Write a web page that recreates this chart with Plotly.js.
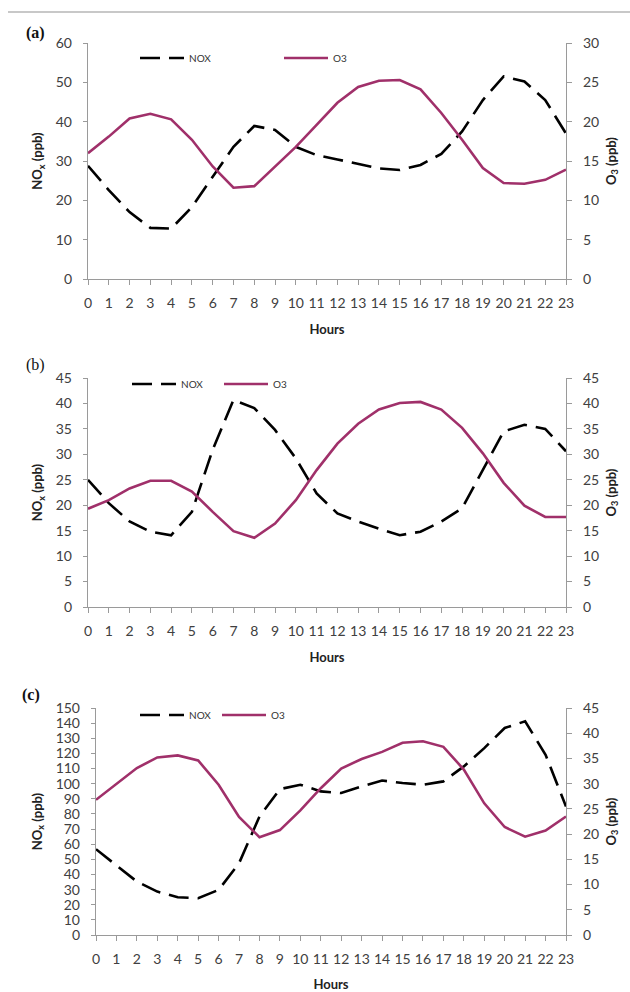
<!DOCTYPE html>
<html>
<head>
<meta charset="utf-8">
<script src="https://cdn.plot.ly/plotly-3.0.1.min.js"></script>
<style>html,body{margin:0;padding:0;background:#fff;}#chart{width:630px;height:992px;}</style>
</head>
<body>
<div id="chart"></div>
<script>
const hours = [0,1,2,3,4,5,6,7,8,9,10,11,12,13,14,15,16,17,18,19,20,21,22,23];

const noxA = [28.8,22.6,17.0,13.0,12.8,18.3,26.0,33.6,38.9,37.9,33.6,31.5,30.4,29.2,28.1,27.7,29.0,31.8,37.5,45.5,51.5,50.2,45.5,37.0];
const o3A  = [16.0,18.1,20.4,21.0,20.3,17.7,14.3,11.6,11.8,14.3,16.8,19.6,22.4,24.4,25.2,25.3,24.1,21.1,17.7,14.1,12.2,12.1,12.6,13.9];

const noxB = [25.0,20.4,16.8,14.8,14.1,18.7,30.9,40.7,39.1,34.8,29.2,22.3,18.4,16.8,15.4,14.1,14.8,16.8,19.4,26.9,34.5,35.8,35.0,30.6];
const o3B  = [19.3,21.0,23.3,24.8,24.8,22.7,18.7,14.9,13.6,16.4,21.0,26.9,32.1,36.0,38.8,40.1,40.3,38.8,35.2,30.2,24.4,19.9,17.7,17.7];

const noxC = [56.7,46.3,35.3,28.7,24.9,24.3,29.8,47.4,78.3,96.4,99.3,94.9,93.8,98.2,102.1,100.4,99.3,101.5,111.4,123.5,136.8,141.2,119.1,84.9];
const o3C  = [26.8,30.0,33.1,35.2,35.6,34.6,29.8,23.4,19.4,20.8,24.7,29.1,33.0,34.9,36.3,38.1,38.4,37.3,32.8,26.1,21.4,19.5,20.7,23.5];

const panelLabels = ['(a)','(b)','(c)'];
const seriesNames = ['NOX','O3'];
const leftTitle = 'NO<sub>x</sub> (ppb)';
const rightTitle = 'O<sub>3</sub> (ppb)';
const xTitle = 'Hours';

const W = 630, H = 992;
const px = v => v / W;
const py = v => 1 - v / H;

const NOX_COLOR = '#000000';
const O3_COLOR = '#A0306A';
const AX_COLOR = '#9a9a9a';
const TICK_FONT = {family: 'Lato, "Open Sans", sans-serif', size: 14, color: '#404040'};
const TITLE_FONT = {family: 'Lato, "Open Sans", sans-serif', size: 13, color: '#222', weight: 'bold'};

function noxTrace(y, xa, ya, lg) {
  return {x: hours, y: y, xaxis: xa, yaxis: ya, name: seriesNames[0], mode: 'lines', legend: lg,
    line: {color: NOX_COLOR, width: 2.6, dash: '20px,9px'}, showlegend: true};
}
function o3Trace(y, xa, ya, lg) {
  return {x: hours, y: y, xaxis: xa, yaxis: ya, name: seriesNames[1], mode: 'lines', legend: lg,
    line: {color: O3_COLOR, width: 2.6}, showlegend: true};
}

const data = [
  noxTrace(noxA, 'x', 'y', 'legend'), o3Trace(o3A, 'x', 'y2', 'legend'),
  noxTrace(noxB, 'x2', 'y3', 'legend2'), o3Trace(o3B, 'x2', 'y4', 'legend2'),
  noxTrace(noxC, 'x3', 'y5', 'legend3'), o3Trace(o3C, 'x3', 'y6', 'legend3')
];

function xAxis(dom, ydomAnchor) {
  return {domain: dom, anchor: ydomAnchor, range: [0, 23], tickvals: hours, ticktext: hours.map(String),
    ticks: 'outside', ticklen: 5, tickcolor: AX_COLOR, showline: true, linecolor: AX_COLOR, linewidth: 1.2,
    showgrid: false, zeroline: false, tickfont: TICK_FONT, tickangle: 0, ticklabelstandoff: 6,
    title: {text: xTitle, font: TITLE_FONT, standoff: 14}};
}
function xInner(over, ya) {
  return {overlaying: over, anchor: ya, side: 'bottom', range: [0, 23], tickvals: hours, ticks: 'inside', ticklen: 4,
    tickcolor: AX_COLOR, showticklabels: false, showline: false, showgrid: false, zeroline: false};
}
function yLeft(dom, xa, range, dtick) {
  return {domain: dom, anchor: xa, range: range, dtick: dtick, tick0: 0, ticks: 'outside', ticklen: 4,
    tickcolor: AX_COLOR, showline: true, linecolor: AX_COLOR, linewidth: 1.2, showgrid: false, zeroline: false,
    tickfont: TICK_FONT, ticklabelstandoff: 8, title: {text: leftTitle, font: TITLE_FONT, standoff: 10}};
}
function yRight(over, xa, range, dtick) {
  return {overlaying: over, anchor: xa, side: 'right', range: range, dtick: dtick, tick0: 0, ticks: 'outside',
    ticklen: 5, tickcolor: AX_COLOR, showline: true, linecolor: AX_COLOR, linewidth: 1.2, showgrid: false,
    zeroline: false, tickfont: TICK_FONT, ticklabelstandoff: 8, title: {text: rightTitle, font: TITLE_FONT, standoff: 8}};
}
function yRightInner(over, xa, range, dtick) {
  return {overlaying: over, anchor: xa, side: 'right', range: range, dtick: dtick, tick0: 0, ticks: 'inside',
    ticklen: 5, tickcolor: AX_COLOR, showticklabels: false, showline: false, showgrid: false, zeroline: false};
}

const domA = [py(279), py(43)];
const domB = [py(607), py(378)];
const domC = [py(935), py(708)];

function legendAt(x, y, ew) {
  return {orientation: 'h', x: x, y: y, xanchor: 'left', yanchor: 'middle', bgcolor: 'rgba(0,0,0,0)',
    font: {family: 'Lato, "Open Sans", sans-serif', size: 10, color: '#333'}, itemwidth: 44,
    entrywidth: ew, entrywidthmode: 'pixels', tracegroupgap: 0, traceorder: 'normal'};
}

const layout = {
  width: W, height: H,
  margin: {l: 0, r: 0, t: 0, b: 0},
  paper_bgcolor: '#fff', plot_bgcolor: 'rgba(0,0,0,0)',
  showlegend: true,
  xaxis: xAxis([px(88), px(566)], 'y'),
  yaxis: yLeft(domA, 'x', [0, 60], 10),
  yaxis2: yRight('y', 'x', [0, 30], 5),
  xaxis2: xAxis([px(88), px(566)], 'y3'),
  yaxis3: yLeft(domB, 'x2', [0, 45], 5),
  yaxis4: yRight('y3', 'x2', [0, 45], 5),
  xaxis3: xAxis([px(96), px(566)], 'y5'),
  yaxis5: yLeft(domC, 'x3', [0, 150], 10),
  yaxis6: yRight('y5', 'x3', [0, 45], 5),
  yaxis7: yRightInner('y', 'x', [0, 30], 5),
  yaxis8: yRightInner('y3', 'x2', [0, 45], 5),
  yaxis9: yRightInner('y5', 'x3', [0, 45], 5),
  xaxis4: xInner('x', 'y'),
  xaxis5: xInner('x2', 'y3'),
  xaxis6: xInner('x3', 'y5'),
  legend: legendAt(px(135), py(58), 85),
  legend2: legendAt(px(127), py(384), 33),
  legend3: legendAt(px(135), py(715), 23),
  shapes: [
    {type: 'line', xref: 'paper', yref: 'paper', x0: px(8), x1: 1, y0: py(12), y1: py(12), line: {color: '#c8c8c8', width: 2}}
  ],
  annotations: [
    {text: '<b>' + panelLabels[0] + '</b>', xref: 'paper', yref: 'paper', x: px(24), y: py(33), xanchor: 'left', yanchor: 'middle', showarrow: false, font: {family: '"Liberation Serif", "DejaVu Serif", serif', size: 16, color: '#111'}},
    {text: panelLabels[1], xref: 'paper', yref: 'paper', x: px(24), y: py(365), xanchor: 'left', yanchor: 'middle', showarrow: false, font: {family: '"Liberation Serif", "DejaVu Serif", serif', size: 16, color: '#111'}},
    {text: '<b>' + panelLabels[2] + '</b>', xref: 'paper', yref: 'paper', x: px(20), y: py(695), xanchor: 'left', yanchor: 'middle', showarrow: false, font: {family: '"Liberation Serif", "DejaVu Serif", serif', size: 16, color: '#111'}}
  ]
};

Plotly.newPlot('chart', data, layout, {displayModeBar: false, staticPlot: true});
</script>
</body>
</html>
